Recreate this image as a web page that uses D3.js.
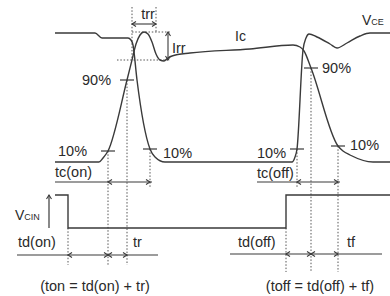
<!DOCTYPE html>
<html><head><meta charset="utf-8">
<script src="https://cdn.jsdelivr.net/npm/d3@7"></script>
<style>
body{margin:0;background:#fff}
svg{display:block}
text{font-family:"Liberation Sans",Arial,Helvetica,sans-serif;fill:#2a2a2a}
</style>
</head><body>
<svg id="c" width="390" height="296"></svg>
<script>
// time (arbitrary units) and level (arbitrary units)
const vcePoints = [[0,129],[40,129],[47,124],[73,124],[76,122],[78,117],[82,82],[95,13],[100,5],[110,0],
  [237,0],[240,5],[242,13],[248,112],[251,124],[254,128],[262,125],[275,118],[282,114],[292,119],[305,126],[315,129],[335,129]];
const icPoints = [[0,0],[44,0],[48,4],[53,11],[72,82],[77,102],[81,118],[85,127],[89,130],[93,128],[97,120],[101,108],
  [105,102],[109,101],[113,104],[117,106],[135,109],[195,113],[238,117],[245,115],[249,111],[256,94],[283,16],[288,11],[295,7],[318,0],[335,0]];
const vcinPoints = [[0,1],[13,1],[13,0],[231,0],[231,1],[335,1]];
const onTimes = [13,53,72,95];     // VCIN edge, Ic 10%, Ic 90%, VCE 10%
const offTimes = [231,242,256,283]; // VCIN edge, VCE 10%, Ic 90%, Ic 10%
const tickMarks = [[53,11],[72,82],[95,13],[242,13],[256,94],[283,16]];
const trrTimes = [77,101];
const irrLevels = [102,130];
const irrTime = 113;

const svg = d3.select("#c");
const x = d3.scaleLinear().domain([0,335]).range([55,390]);
const y = d3.scaleLinear().domain([0,130]).range([162,32]);
const yIn = d3.scaleLinear().domain([0,1]).range([228,195]);

const stroke = "#3a3a3a";
const dotC = "#555";

// dotted guides
const dot = (x1,y1,x2,y2)=>svg.append("line").attr("x1",x1).attr("y1",y1).attr("x2",x2).attr("y2",y2)
  .attr("stroke",dotC).attr("stroke-width",1).attr("stroke-dasharray","1.5,1.8");
dot(x(onTimes[0]), yIn(0), x(onTimes[0]), 265);
dot(x(onTimes[1]), y(11), x(onTimes[1]), 265);
dot(x(onTimes[2]), y(82), x(onTimes[2]), 265);
dot(x(onTimes[3]), y(13), x(onTimes[3]), 187);
dot(x(trrTimes[0]), 7, x(trrTimes[0]), y(irrLevels[0]));
dot(x(trrTimes[1]), 7, x(trrTimes[1]), y(irrLevels[1]));
dot(x(trrTimes[0]), y(irrLevels[1]), x(irrTime)+2, y(irrLevels[1]));
dot(x(62), y(irrLevels[0]), x(irrTime)+2, y(irrLevels[0]));
dot(x(offTimes[0]), yIn(0), x(offTimes[0]), 272);
dot(x(offTimes[1]), y(13), x(offTimes[1]), 187);
dot(x(offTimes[2]), y(94), x(offTimes[2]), 272);
dot(x(offTimes[3]), y(16), x(offTimes[3]), 272);

// curves
const line = d3.line().x(d=>x(d[0])).y(d=>y(d[1])).curve(d3.curveMonotoneX);
svg.append("path").attr("d",line(vcePoints)).attr("fill","none").attr("stroke",stroke).attr("stroke-width",1.4);
svg.append("path").attr("d",line(icPoints)).attr("fill","none").attr("stroke",stroke).attr("stroke-width",1.4);
const lineIn = d3.line().x(d=>x(d[0])).y(d=>yIn(d[1]));
svg.append("path").attr("d",lineIn(vcinPoints)).attr("fill","none").attr("stroke",stroke).attr("stroke-width",1.4);

// level ticks
tickMarks.forEach(d=>{
  svg.append("line").attr("x1",x(d[0])-7).attr("x2",x(d[0])+7).attr("y1",y(d[1])).attr("y2",y(d[1]))
    .attr("stroke",stroke).attr("stroke-width",1.2);
});

// arrows
const hline = (x1,x2,yy)=>svg.append("line").attr("x1",x1).attr("x2",x2).attr("y1",yy).attr("y2",yy).attr("stroke",stroke).attr("stroke-width",1.1);
const chevH = (tx,ty,dir)=>svg.append("path").attr("d",`M${tx-dir*4},${ty-2.5}L${tx},${ty}L${tx-dir*4},${ty+2.5}`)
  .attr("fill","none").attr("stroke",stroke).attr("stroke-width",1.1);
const chevV = (tx,ty,dir)=>svg.append("path").attr("d",`M${tx-2.5},${ty-dir*4}L${tx},${ty}L${tx+2.5},${ty-dir*4}`)
  .attr("fill","none").attr("stroke",stroke).attr("stroke-width",1.1);
const dbl = (t1,t2,yy)=>{chevH(x(t1),yy,-1);chevH(x(t2),yy,1);};

// trr
hline(x(trrTimes[0]), x(trrTimes[1]), 24); dbl(trrTimes[0], trrTimes[1], 24);
// Irr
svg.append("line").attr("x1",x(irrTime)).attr("x2",x(irrTime)).attr("y1",y(irrLevels[1])).attr("y2",y(irrLevels[0])).attr("stroke",stroke).attr("stroke-width",1.1);
chevV(x(irrTime), y(irrLevels[1]), -1); chevV(x(irrTime), y(irrLevels[0]), 1);
// tc(on), tc(off)
hline(55, x(97), 182); dbl(onTimes[1], onTimes[3], 182);
hline(257, x(285), 182); dbl(offTimes[1], offTimes[3], 182);
// timing rows
hline(17, 158, 255); dbl(onTimes[0], onTimes[1], 255); dbl(onTimes[1], onTimes[2], 255);
hline(230, 382, 254); dbl(offTimes[0], offTimes[2], 254); dbl(offTimes[2], offTimes[3], 254);
// VCIN arrow
svg.append("line").attr("x1",49).attr("x2",49).attr("y1",228).attr("y2",195).attr("stroke",stroke).attr("stroke-width",1.2);
chevV(49,195,-1);

// texts
const txt = (s,tx,ty,size,anchor)=>svg.append("text").attr("x",tx).attr("y",ty).attr("font-size",size||14.5)
  .attr("text-anchor",anchor||"start").text(s);
txt("trr",148,19,14.5,"middle");
txt("Irr",172,53);
txt("Ic",235,41,14);
const vce = svg.append("text").attr("x",362).attr("y",25).attr("font-size",14);
vce.append("tspan").text("V"); vce.append("tspan").attr("font-size",9).text("CE");
txt("90%",82,85);
txt("10%",58,156);
txt("10%",163,158);
txt("tc(on)",55,177);
txt("90%",322,73);
txt("10%",350,150);
txt("10%",257,158);
txt("tc(off)",257,178);
const vcin = svg.append("text").attr("x",15).attr("y",220).attr("font-size",14);
vcin.append("tspan").text("V"); vcin.append("tspan").attr("font-size",9).text("CIN");
txt("td(on)",18,247);
txt("tr",133,247);
txt("(ton = td(on) + tr)",95,291,14.5,"middle");
txt("td(off)",238,247);
txt("tf",347,247);
txt("(toff = td(off) + tf)",320,291,14.5,"middle");
</script>
</body></html>
